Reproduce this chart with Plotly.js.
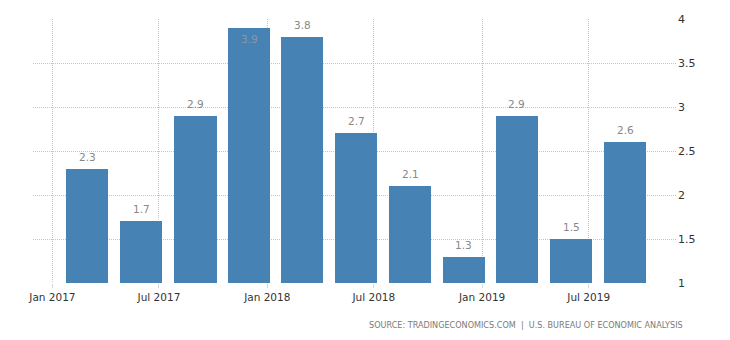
<!DOCTYPE html>
<html>
<head>
<meta charset="utf-8">
<script src="https://cdn.plot.ly/plotly-3.0.1.min.js"></script>
<style>
  html, body { margin: 0; padding: 0; background: #fff; }
  #chart { width: 730px; height: 340px; }
</style>
</head>
<body>
<div id="chart"></div>
<script>
// Quarterly periods (placed on the first day of the quarter's last month)
const quarters = ['2017-03-01', '2017-06-01', '2017-09-01', '2017-12-01',
                  '2018-03-01', '2018-06-01', '2018-09-01', '2018-12-01',
                  '2019-03-01', '2019-06-01', '2019-09-01'];
const values = [2.3, 1.7, 2.9, 3.9, 3.8, 2.7, 2.1, 1.3, 2.9, 1.5, 2.6];
const valueLabels = ['2.3', '1.7', '2.9', '3.9', '3.8', '2.7', '2.1', '1.3', '2.9', '1.5', '2.6'];

const xTickDates = ['2017-01-01', '2017-07-01', '2018-01-01', '2018-07-01', '2019-01-01', '2019-07-01'];
const xTickLabels = ['Jan 2017', 'Jul 2017', 'Jan 2018', 'Jul 2018', 'Jan 2019', 'Jul 2019'];
const yTickVals = [1, 1.5, 2, 2.5, 3, 3.5, 4];
const yTickLabels = ['1', '1.5', '2', '2.5', '3', '3.5', '4'];
const sourceText = 'SOURCE: TRADINGECONOMICS.COM  |  U.S. BUREAU OF ECONOMIC ANALYSIS';

const yMin = 1, yMax = 4;
const FONT = 'DejaVu Sans, Verdana, sans-serif';
const DAY = 86400000;

const trace = {
  type: 'bar',
  x: quarters,
  y: values,
  width: quarters.map(() => 71.5 * DAY),
  marker: { color: '#4682b4' },
  hoverinfo: 'skip'
};

const labelAnnotations = quarters.map((q, i) => {
  const inside = values[i] > yMax - 0.15;
  return {
    x: q, y: values[i], xref: 'x', yref: 'y',
    text: valueLabels[i],
    showarrow: false,
    xanchor: 'center',
    yanchor: inside ? 'top' : 'bottom',
    yshift: inside ? -3 : 4,
    font: { family: FONT, size: 10.5, color: inside ? '#8a97a8' : '#888888' }
  };
});

const layout = {
  width: 730, height: 340,
  margin: { l: 33, r: 53, t: 19, b: 57, pad: 0 },
  paper_bgcolor: '#ffffff',
  plot_bgcolor: '#ffffff',
  showlegend: false,
  bargap: 0,
  font: { family: FONT, size: 10.5, color: '#333333' },
  xaxis: {
    type: 'date',
    range: ['2016-11-29', '2019-11-28'],
    tickmode: 'array',
    tickvals: xTickDates,
    ticktext: xTickLabels,
    showgrid: true,
    gridcolor: '#c4c4c4',
    griddash: '1px,1px',
    gridwidth: 1,
    ticks: 'outside',
    ticklen: 4,
    tickcolor: '#d8d8d8',
    showline: false,
    zeroline: false,
    tickfont: { family: FONT, size: 10.5, color: '#333333' },
    fixedrange: true
  },
  yaxis: {
    side: 'right',
    range: [yMin, yMax],
    tickmode: 'array',
    tickvals: yTickVals,
    ticktext: yTickLabels,
    showgrid: true,
    gridcolor: '#c4c4c4',
    griddash: '1px,1px',
    gridwidth: 1,
    ticks: '',
    showline: false,
    zeroline: false,
    tickfont: { family: FONT, size: 11, color: '#333333' },
    fixedrange: true
  },
  annotations: labelAnnotations.concat([{
    xref: 'paper', yref: 'paper',
    x: 1.0124, y: -0.160,
    xanchor: 'right', yanchor: 'middle',
    text: sourceText,
    showarrow: false,
    font: { family: FONT, size: 8.1, color: '#7a7a7a' }
  }])
};

Plotly.newPlot('chart', [trace], layout, { staticPlot: true, displayModeBar: false });
</script>
</body>
</html>
